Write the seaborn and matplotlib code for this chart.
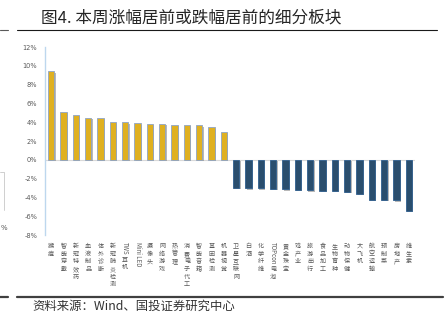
import re
import numpy as np
import pandas as pd
import matplotlib
matplotlib.use("Agg")
import matplotlib.pyplot as plt
import matplotlib.patheffects as pe
from matplotlib.lines import Line2D
import seaborn as sns

# ---------------- data ----------------
categories = ["猴痘", "智能穿戴", "新冠特效药", "血液制品", "体外诊断", "新冠肺炎检测",
              "TWS耳机", "Mini LED", "摄像头", "网络游戏", "热管理", "消费电子代工",
              "智能音箱", "基因检测", "机器视觉", "卫星互联网", "白酒", "化学纤维",
              "TOPcon电池", "黄金珠宝", "鸡产业", "旅游出行", "食品加工", "生物育种",
              "动物保健", "大飞机", "航空运输", "预制菜", "房地产", "维生素"]
changes = [9.42, 5.11, 4.80, 4.48, 4.44, 4.02, 3.99, 3.88, 3.84, 3.81, 3.74, 3.70,
           3.67, 3.46, 2.96, -3.00, -3.03, -3.03, -3.07, -3.14, -3.21, -3.25, -3.28,
           -3.32, -3.39, -3.63, -4.23, -4.27, -4.30, -5.43]
yticks = [-8, -6, -4, -2, 0, 2, 4, 6, 8, 10, 12]
title = "图4. 本周涨幅居前或跌幅居前的细分板块"
source = "资料来源：Wind、国投证券研究中心"

# ---------------- style ----------------
sns.set_theme(style="white")
plt.rcParams['font.family'] = ['Noto Sans CJK SC', 'DejaVu Sans']

W, H = 448, 332
fig = plt.figure(figsize=(W / 100, H / 100), dpi=100)
fig.patch.set_facecolor("white")


def fx(px):
    return px / W


def fy(py):
    return 1 - py / H


ax = fig.add_axes([fx(45), fy(235), fx(415) - fx(45), fy(47) - fy(235)])

df = pd.DataFrame({"cat": categories, "chg": changes})
df["dir"] = np.where(df["chg"] >= 0, "up", "down")
ax.axhline(0, color="#D9D9D9", lw=0.8, zorder=0)
sns.barplot(data=df, x="cat", y="chg", hue="dir",
            palette={"up": "#FFC000", "down": "#1F4E79"},
            dodge=False, width=0.5, legend=False, ax=ax, zorder=2)

for p in ax.patches:
    if p.get_height() >= 0:
        p.set_edgecolor("#8EA4C8")
    else:
        p.set_edgecolor("#2F5F8F")
    p.set_linewidth(0.6)
    p.set_path_effects([pe.SimplePatchShadow(offset=(1.0, -1.0), shadow_rgbFace="#7F7F7F", alpha=0.55),
                        pe.Normal()])

ax.set_xlim(-0.5, len(categories) - 0.5)
ax.set_ylim(yticks[0], yticks[-1])
ax.set_yticks(yticks)
ax.set_yticklabels([f"{v}%" for v in yticks], fontsize=4.8, color="#595959",
                   family=["DejaVu Sans"])
ax.tick_params(axis="y", length=0, pad=5.5)
ax.tick_params(axis="x", length=0, pad=5)
ax.set_xlabel("")
ax.set_ylabel("")
for s in ["top", "right", "bottom"]:
    ax.spines[s].set_visible(False)
ax.spines["left"].set_color("#BDD7EE")
ax.spines["left"].set_linewidth(1.0)

# x tick labels: CJK stacked vertically, Latin runs rotated
lab_fs = 4.4
lab_ls = 0.95
ax.set_xticks(range(len(categories)))
tick_texts = []
tails = []
for cat in categories:
    runs = re.findall(r'[A-Za-z0-9 ]+|[^A-Za-z0-9 ]+', cat)
    if re.match(r'[A-Za-z0-9]', runs[0]):
        tick_texts.append(runs[0])
        tails.append("".join(runs[1:]))
    else:
        tick_texts.append("\n".join(cat))
        tails.append(None)
ax.set_xticklabels(tick_texts, fontsize=lab_fs, color="#595959", linespacing=lab_ls)
for lbl, tail in zip(ax.get_xticklabels(), tails):
    if tail is not None:
        lbl.set_rotation(-90)
        lbl.set_va("top")
        lbl.set_ha("center")

fig.canvas.draw()
renderer = fig.canvas.get_renderer()
inv = ax.transAxes.inverted()
for i, (lbl, tail) in enumerate(zip(ax.get_xticklabels(), tails)):
    if tail:
        bb = lbl.get_window_extent(renderer)
        yfrac = inv.transform((0, bb.y0 - 1))[1]
        ax.text(i, yfrac, "\n".join(tail), transform=ax.get_xaxis_transform(),
                ha="center", va="top", fontsize=lab_fs, color="#595959",
                linespacing=lab_ls)

# title & decorations
fig.text(fx(41), fy(18), title, fontsize=12, color="#262626", va="center", ha="left")
fig.add_artist(Line2D([fx(17), fx(437)], [fy(29.5), fy(29.5)], color="#1A1A1A", lw=0.8,
                      transform=fig.transFigure))
fig.add_artist(Line2D([fx(0), fx(8)], [fy(29.5), fy(29.5)], color="#595959", lw=0.8,
                      transform=fig.transFigure))
fig.add_artist(Line2D([fx(17), fx(443)], [fy(296.5), fy(296.5)], color="#404040", lw=1.6,
                      transform=fig.transFigure))
fig.add_artist(Line2D([fx(0), fx(8)], [fy(296.5), fy(296.5)], color="#404040", lw=1.6,
                      transform=fig.transFigure))
fig.add_artist(Line2D([fx(0), fx(4), fx(4)], [fy(172), fy(172), fy(210)], color="#C8C8C8",
                      lw=0.6, transform=fig.transFigure))
fig.text(fx(0.5), fy(228), "%", fontsize=5, color="#595959", va="center", ha="left",
         family=["DejaVu Sans"])
fig.text(fx(32), fy(306), source, fontsize=8.9, color="#333333", va="center", ha="left",
         style="italic")

fig.savefig("out.png", dpi=100, facecolor="white")
